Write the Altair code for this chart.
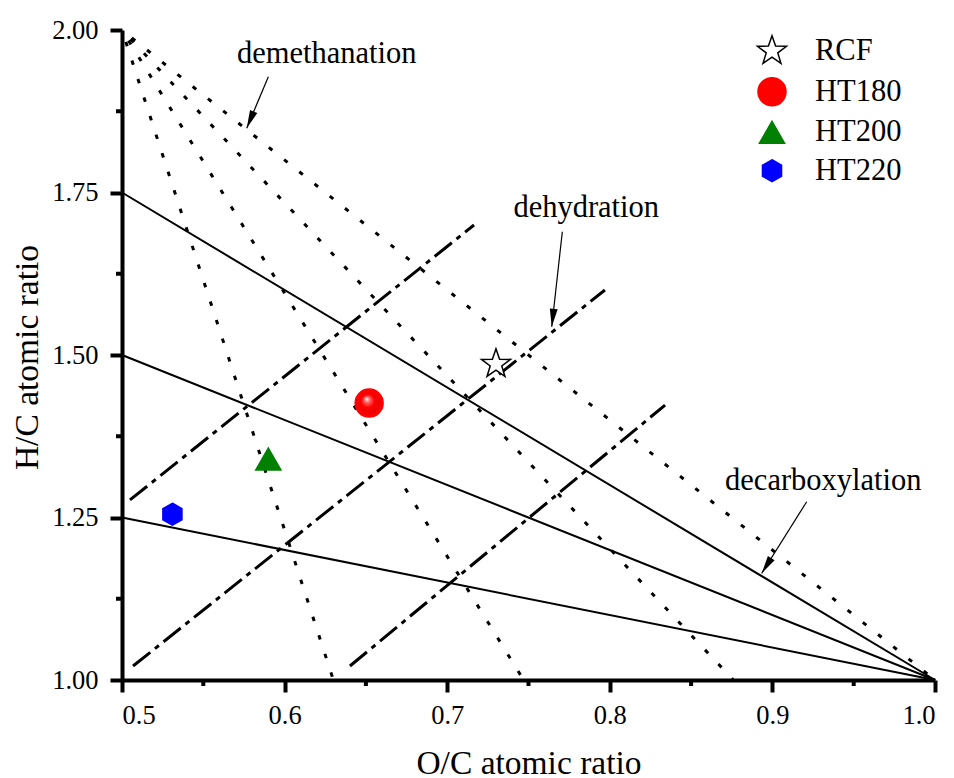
import math
import altair as alt
import pandas as pd

# ---------------- data ----------------
samples = ["RCF", "HT180", "HT200", "HT220"]
oc_ratio = [0.73, 0.652, 0.59, 0.531]
hc_ratio = [1.486, 1.426, 1.34, 1.255]

# decarboxylation reference lines (solid)
solid_x1 = [0.5, 0.5, 0.5]
solid_y1 = [1.75, 1.5, 1.25]
solid_x2 = [1.0, 1.0, 1.0]
solid_y2 = [1.0, 1.0, 1.0]

# demethanation reference lines (dotted)
dot_x1 = [0.5, 0.5, 0.5, 0.5]
dot_y1 = [2.0, 2.0, 2.0, 2.0]
dot_x2 = [0.63, 0.747, 0.876, 1.0]
dot_y2 = [1.0, 1.0, 1.0, 1.0]

# dehydration reference lines (dash-dot)
dd_x1 = [0.5049, 0.5068, 0.6402]
dd_y1 = [1.277, 1.0215, 1.0215]
dd_x2 = [0.7165, 0.797, 0.834]
dd_y2 = [1.70, 1.60, 1.423]

# annotations
ann_text = ["demethanation", "dehydration", "decarboxylation"]
ann_x = [0.6259, 0.7855, 0.9313]
ann_y = [1.9488, 1.7128, 1.2923]
arr_x1 = [0.59, 0.7708, 0.9211]
arr_y1 = [1.928, 1.6897, 1.2743]
arr_x2 = [0.5767, 0.7643, 0.8934]
arr_y2 = [1.849, 1.5435, 1.1641]

x_major = [0.5, 0.6, 0.7, 0.8, 0.9, 1.0]
x_minor = [0.55, 0.65, 0.75, 0.85, 0.95]
y_major = [1.0, 1.25, 1.5, 1.75, 2.0]
y_minor = [1.125, 1.375, 1.625, 1.875]

# ---------------- styling ----------------
FONT = "Liberation Serif"
W, H = 813, 650
PX_X = W / 0.5
PX_Y = H / 1.0

def star_path(inner=0.4):
    pts = []
    for i in range(10):
        r = 1.0 if i % 2 == 0 else inner
        a = math.radians(-90 + 36 * i)
        pts.append((r * math.cos(a), r * math.sin(a)))
    return "M" + "L".join(f"{x:.3f},{y:.3f}" for x, y in pts) + "Z"

hex_path = "M0,-1L0.866,-0.5L0.866,0.5L0,1L-0.866,0.5L-0.866,-0.5Z"
tri_path = "M0,-0.866L1,0.866L-1,0.866Z"
arrow_path = "M0,0L-0.22,1L0.22,1Z"

xscale = alt.Scale(domain=[0.5, 1.0], nice=False, zero=False)
yscale = alt.Scale(domain=[1.0, 2.0], nice=False, zero=False)

xaxis = alt.Axis(values=x_major, format=".1f", tickSize=12, tickWidth=4, domainWidth=4,
                 domainColor="black", tickColor="black", grid=False,
                 labelFont=FONT, labelFontSize=26.5, labelColor="black", labelPadding=10,
                 titleFont=FONT, titleFontSize=33.5, titleFontWeight="normal",
                 titleColor="black", titleBaseline="alphabetic", titleY=93)
yaxis = alt.Axis(values=y_major, format=".2f", tickSize=12, tickWidth=4, domainWidth=4,
                 domainColor="black", tickColor="black", grid=False,
                 labelFont=FONT, labelFontSize=26.5, labelColor="black", labelPadding=12,
                 titleFont=FONT, titleFontSize=33.5, titleFontWeight="normal",
                 titleColor="black", titleAngle=270, titleBaseline="alphabetic",
                 titleAlign="center", titleX=-85, titleY=327)
XT = "O/C atomic ratio"
YT = "H/C atomic ratio"

def X(f):
    return alt.X(f, type="quantitative", scale=xscale, axis=xaxis, title=XT)

def Y(f):
    return alt.Y(f, type="quantitative", scale=yscale, axis=yaxis, title=YT)

def seg_df(x1, y1, x2, y2):
    return pd.DataFrame({"x1": x1, "y1": y1, "x2": x2, "y2": y2})

solid = alt.Chart(seg_df(solid_x1, solid_y1, solid_x2, solid_y2)).mark_rule(
    color="black", strokeWidth=2).encode(x=X("x1"), y=Y("y1"), x2="x2", y2="y2")

dotted = alt.Chart(seg_df(dot_x1, dot_y1, dot_x2, dot_y2)).mark_rule(
    color="black", strokeWidth=3, strokeDash=[4.5, 15], strokeDashOffset=7).encode(
    x=X("x1"), y=Y("y1"), x2="x2", y2="y2")

dashdot = alt.Chart(seg_df(dd_x1, dd_y1, dd_x2, dd_y2)).mark_rule(
    color="black", strokeWidth=3, strokeDash=[22, 6, 5, 6]).encode(
    x=X("x1"), y=Y("y1"), x2="x2", y2="y2")

# minor ticks
minor_x = alt.Chart(pd.DataFrame({"v": x_minor})).mark_tick(
    orient="vertical", size=6, thickness=4, yOffset=3, color="black", opacity=1).encode(
    x=X("v"), y=alt.YDatum(1.0, scale=yscale, axis=yaxis, title=YT))
minor_y = alt.Chart(pd.DataFrame({"v": y_minor})).mark_tick(
    orient="horizontal", size=6, thickness=4, xOffset=-3, color="black", opacity=1).encode(
    y=Y("v"), x=alt.XDatum(0.5, scale=xscale, axis=xaxis, title=XT))

# arrows
arr_df = seg_df(arr_x1, arr_y1, arr_x2, arr_y2)
arr_df["ang"] = [
    (math.degrees(math.atan2((b - a) * PX_X, (d - c) * PX_Y)) % 360)
    for a, b, c, d in zip(arr_x1, arr_x2, arr_y1, arr_y2)
]
arrow_lines = alt.Chart(arr_df).mark_rule(color="black", strokeWidth=1.2).encode(
    x=X("x1"), y=Y("y1"), x2="x2", y2="y2")
arrow_heads = alt.Chart(arr_df).mark_point(
    shape=arrow_path, filled=True, size=1296, color="black", opacity=1, strokeWidth=0).encode(
    x=X("x2"), y=Y("y2"), angle=alt.Angle("ang:Q", scale=None))

texts = alt.Chart(pd.DataFrame({"t": ann_text, "x": ann_x, "y": ann_y})).mark_text(
    font=FONT, fontSize=30.5, baseline="alphabetic", align="center", color="black").encode(
    x=X("x"), y=Y("y"), text="t:N")

# data points
pts_df = pd.DataFrame({"sample": samples, "oc": oc_ratio, "hc": hc_ratio})
leg = alt.Legend(title=None, orient="none", legendX=634, legendY=5, padding=0,
                 labelFont=FONT, labelFontSize=30.5, labelColor="black",
                 labelOffset=27, rowPadding=7.5, symbolStrokeWidth=1.5)
points = alt.Chart(pts_df).mark_point(filled=True, opacity=1, strokeWidth=1.5).encode(
    x=X("oc"), y=Y("hc"),
    fill=alt.Fill("sample:N", scale=alt.Scale(domain=samples, range=["white", "#ff0000", "#008000", "#0000ff"]), legend=leg),
    stroke=alt.Stroke("sample:N", scale=alt.Scale(domain=samples, range=["black", "#ff0000", "#008000", "#0000ff"]), legend=leg),
    shape=alt.Shape("sample:N", scale=alt.Scale(domain=samples, range=[star_path(), "circle", tri_path, hex_path]), legend=leg),
    size=alt.Size("sample:N", scale=alt.Scale(domain=samples, range=[930, 484, 625, 576]), legend=leg),
)

highlight = alt.Chart(pts_df[pts_df["sample"] == "HT180"]).mark_point(
    shape="circle", size=484, opacity=1, strokeWidth=0,
    fill=alt.RadialGradient(gradient="radial",
                            stops=[alt.GradientStop(color="#ffffff", offset=0),
                                   alt.GradientStop(color="#ff6060", offset=0.25),
                                   alt.GradientStop(color="#ff0000", offset=0.55),
                                   alt.GradientStop(color="#e80000", offset=1)],
                            x1=0.38, y1=0.3, r1=0, x2=0.5, y2=0.5, r2=0.55)).encode(
    x=X("oc"), y=Y("hc"))

chart = alt.layer(
    solid, dotted, dashdot, minor_x, minor_y, arrow_lines, arrow_heads, texts, points, highlight
).properties(
    width=W, height=H,
    padding={"left": 122, "top": 30, "right": 19, "bottom": 98},
    autosize=alt.AutoSizeParams(type="none"),
    background="white",
).configure_view(stroke=None).configure_axis(
    labelFont=FONT, labelFontSize=26.5, labelColor="black",
    titleFont=FONT, titleFontSize=33.5, titleFontWeight="normal", titleColor="black",
)

chart.save("out.html", embed_options={"renderer": "svg", "actions": False})
